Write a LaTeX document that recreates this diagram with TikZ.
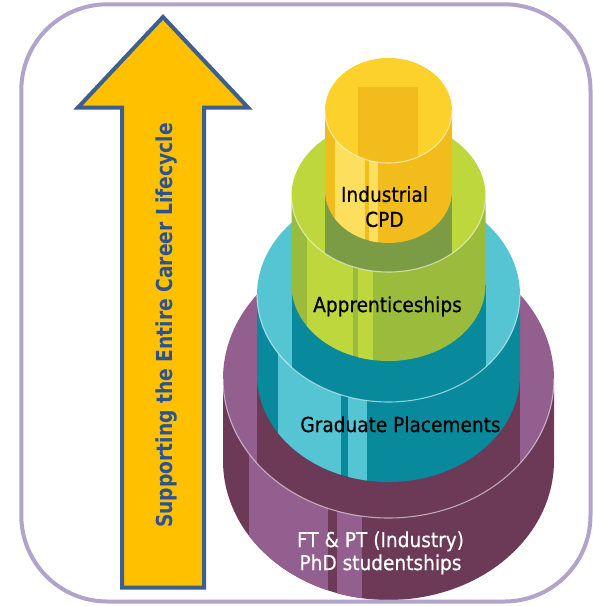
\documentclass[tikz,border=0pt]{standalone}
\usepackage{fontspec}
\newfontfamily\labfont[FakeStretch=0.9,FakeBold=0.5]{DejaVu Sans}
\newfontfamily\arrfont[FakeStretch=0.85]{DejaVu Sans}
\definecolor{frame}{HTML}{B2A3CA}
\definecolor{arrfill}{HTML}{FFC000}
\definecolor{arrline}{HTML}{3E5F8E}
\definecolor{arrtext}{HTML}{2E5190}
\definecolor{ylTop}{HTML}{FCD12B}
\definecolor{ylSide}{HTML}{F2BC1C}
\definecolor{ylLight}{HTML}{FDDF5E}
\definecolor{olive}{HTML}{7B9B45}
\definecolor{grTop}{HTML}{BDD73D}
\definecolor{grSide}{HTML}{9BBB3C}
\definecolor{tlTop}{HTML}{55C5D4}
\definecolor{tlSide}{HTML}{08899C}
\definecolor{puTop}{HTML}{935F8E}
\definecolor{puSide}{HTML}{6C3A56}
% rx ry yt yb sidecol lightcol
\newcommand\cylside[6]{%
  \fill[#5] (388.5-#1,#3) -- (388.5-#1,#4) -- plot[domain=180:0,samples=90] ({388.5+#1*cos(\x)},{#4+#2*sin(\x)}) -- (388.5+#1,#3) -- cycle;
  \begin{scope}
    \clip (388.5-#1,#3) -- (388.5-#1,#4) -- plot[domain=180:0,samples=90] ({388.5+#1*cos(\x)},{#4+#2*sin(\x)}) -- (388.5+#1,#3) -- cycle;
    \fill[#6] ({388.5-0.84*#1},{#3}) rectangle ({388.5-0.365*#1},{#4+#2+2});
    \fill[#6] ({388.5-0.31*#1},{#3}) rectangle ({388.5-0.16*#1},{#4+#2+2});
  \end{scope}}
% rx ry yt col
\newcommand\cyltop[4]{\fill[#4] (388.5,#3) ellipse [x radius=#1pt, y radius=#2pt];}
% rx ry yt
\newcommand\cylrim[3]{\draw[rim] plot[domain=0:180,samples=90] ({388.5+#1*cos(\x)},{#3+#2*sin(\x)});}
% rx ry yt (lower cylinder), rx yb (upper cylinder), col
\newcommand\cylshadow[6]{%
  \begin{scope}
    \clip (388.5,#3) ellipse [x radius=#1pt, y radius=#2pt];
    \fill[#6] (388.5-#4,#5) rectangle (388.5+#4,#3+#2+2);
  \end{scope}}
\begin{document}
\begin{tikzpicture}[x=1pt,y=-1pt,
  rim/.style={draw=white,draw opacity=0.55,line width=1.1pt},
  lab/.style={font=\labfont\fontsize{20.6}{25}\selectfont,text=black,inner sep=0pt,align=center},
  arrowlab/.style={font=\arrfont\bfseries\fontsize{22}{26}\selectfont,text=arrtext,inner sep=0pt},
  bigarrow/.style={draw=arrline,fill=arrfill,line width=4pt,line join=miter},
  frameline/.style={draw=frame,line width=4pt,rounded corners=86pt}]
\useasboundingbox (0,0) rectangle (593,606);
\fill[white] (0,0) rectangle (593,606);

% arrow
\draw[bigarrow] (163,17) -- (248,107.5) -- (204,107.5) -- (204,587.5) -- (122,587.5) -- (122,107.5) -- (78,107.5) -- cycle;
\node[arrowlab,rotate=90] (sup) at (167,325.5) {Supporting the Entire Career Lifecycle};

% purple cylinder
\cylside{165.5}{139}{379}{461}{puSide}{puTop}
\cyltop{165.5}{139}{379}{puTop}
\cylshadow{165.5}{139}{379}{131.5}{375}{puSide}
\cylrim{165.5}{139}{379}

% teal cylinder
\cylside{131.5}{107}{295}{375}{tlSide}{tlTop}
\cyltop{131.5}{107}{295}{tlTop}
\cylshadow{131.5}{107}{295}{97}{285}{tlSide}
\cylrim{131.5}{107}{295}

% green cylinder
\cylside{97}{76}{196}{285}{grSide}{grTop}
\cyltop{97}{76}{196}{grTop}
\cylshadow{97}{76}{196}{63.5}{190.5}{olive}
\cylrim{97}{76}{196}

% yellow cylinder
\cylside{63.5}{52.5}{110.5}{190.5}{ylSide}{ylLight}
\cyltop{63.5}{52.5}{110.5}{ylTop}
\begin{scope}
  \clip (388.5,110.5) ellipse [x radius=63.5pt, y radius=52.5pt];
  \fill[ylSide] (358.3,86.7) rectangle (417.7,170);
\end{scope}
\cylrim{63.5}{52.5}{110.5}

% labels
\node[lab] (cpd) at (384.5,206.7) {Industrial\\CPD};
\node[lab,anchor=base] (app) at (387.5,312) {Apprenticeships};
\node[lab,anchor=base] (grad) at (400.5,432) {Graduate Placements};
\node[lab,text=white,font=\labfont\fontsize{20.6}{23}\selectfont] (phd) at (380.5,552.9) {FT \& PT (Industry)\\PhD studentships};

% frame
\draw[frameline] (21.3,4.3) rectangle (590.5,601.5);
\end{tikzpicture}
\end{document}
